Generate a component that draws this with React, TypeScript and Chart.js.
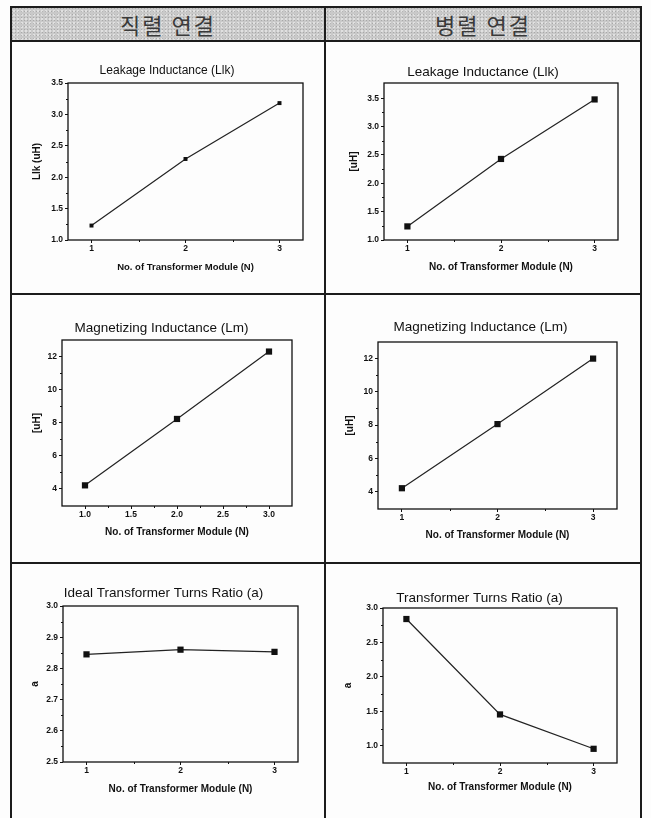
import React, { useEffect, useRef } from "react";
import { Chart, registerables } from "chart.js";

Chart.register(...registerables);

// ---------------- data ----------------
const modules = [1, 2, 3];

const llkSeries = [1.23, 2.29, 3.18];
const llkParallel = [1.24, 2.43, 3.48];
const lmSeries = [4.2, 8.22, 12.3];
const lmParallel = [4.2, 8.06, 12.0];
const ratioSeries = [2.845, 2.86, 2.853];
const ratioParallel = [2.84, 1.455, 0.956];

const headerLabels = ["직렬 연결", "병렬 연결"];

const titles = [
  "Leakage Inductance (Llk)",
  "Leakage Inductance (Llk)",
  "Magnetizing Inductance (Lm)",
  "Magnetizing Inductance (Lm)",
  "Ideal Transformer Turns Ratio (a)",
  "Transformer Turns Ratio (a)",
];
const yTitles = ["Llk (uH)", "[uH]", "[uH]", "[uH]", "a", "a"];
const xTitle = "No. of Transformer Module (N)";

const xTicksInt = [1, 2, 3];
const xMinorInt = [1.5, 2.5];
const xTicksHalf = [1.0, 1.5, 2.0, 2.5, 3.0];
const xMinorHalf = [1.25, 1.75, 2.25, 2.75];

const yTicksLlk = [1.0, 1.5, 2.0, 2.5, 3.0, 3.5];
const yMinorLlk = [1.25, 1.75, 2.25, 2.75, 3.25];
const yTicksLm = [4, 6, 8, 10, 12];
const yMinorLm = [5, 7, 9, 11];
const yTicksRatioS = [2.5, 2.6, 2.7, 2.8, 2.9, 3.0];
const yMinorRatioS = [2.55, 2.65, 2.75, 2.85, 2.95];
const yTicksRatioP = [1.0, 1.5, 2.0, 2.5, 3.0];
const yMinorRatioP = [1.25, 1.75, 2.25, 2.75];

// ---------------- chart ----------------
type Spec = {
  cell: [number, number, number, number];
  plot: [number, number, number, number];
  title: string;
  titleSize: number;
  titleY: number;
  yTitle: string;
  yTitleX: number;
  xTitleY: number;
  xTitleSize: number;
  ys: number[];
  xRange: [number, number];
  yRange: [number, number];
  xTicks: number[];
  xMinor: number[];
  xDec: number;
  yTicks: number[];
  yMinor: number[];
  yDec: number;
  pointR: number;
};

const framePlugin = {
  id: "frame",
  afterDraw(chart: any, _args: any, opts: any) {
    const { ctx, chartArea: a, scales } = chart;
    ctx.save();
    ctx.strokeStyle = "#111";
    ctx.lineWidth = 1.3;
    ctx.strokeRect(a.left, a.top, a.right - a.left, a.bottom - a.top);
    ctx.lineWidth = 1;
    ctx.beginPath();
    for (const v of opts.xMinor || []) {
      const x = Math.round(scales.x.getPixelForValue(v)) + 0.5;
      ctx.moveTo(x, a.bottom);
      ctx.lineTo(x, a.bottom + 2);
    }
    for (const v of opts.yMinor || []) {
      const y = Math.round(scales.y.getPixelForValue(v)) + 0.5;
      ctx.moveTo(a.left, y);
      ctx.lineTo(a.left - 2, y);
    }
    ctx.stroke();
    ctx.restore();
  },
};

const FONT = "'Liberation Sans', Arial, sans-serif";

function Panel({ spec }: { spec: Spec }) {
  const ref = useRef<HTMLCanvasElement | null>(null);
  const [cx, cy, cw, ch] = spec.cell;
  const [pl, pt, pr, pb] = spec.plot;

  useEffect(() => {
    if (!ref.current) return;
    const yTitleSize = 10;
    const tb = pt - spec.titleY - spec.titleSize * 0.6;
    const padTop = pt - cy - spec.titleSize * 1.2 - tb;
    const yW = pl - spec.yTitleX + yTitleSize * 0.6;
    const padLeft = pl - cx - yW;
    const padRight = cx + cw - pr;
    const xH = spec.xTitleY + spec.xTitleSize * 0.6 - pb;
    const padBottom = cy + ch - pb - xH;

    const chart = new Chart(ref.current, {
      type: "line",
      data: {
        datasets: [
          {
            data: modules.map((m, i) => ({ x: m, y: spec.ys[i] })),
            borderColor: "#222",
            borderWidth: 1.2,
            pointStyle: "rect",
            pointRadius: spec.pointR,
            pointBackgroundColor: "#111",
            pointBorderColor: "#111",
            pointBorderWidth: 0,
            tension: 0,
            fill: false,
          },
        ],
      },
      plugins: [framePlugin as any],
      options: {
        animation: false,
        responsive: false,
        maintainAspectRatio: false,
        events: [],
        layout: {
          padding: { left: padLeft, right: padRight, top: padTop, bottom: padBottom },
        },
        plugins: {
          legend: { display: false },
          tooltip: { enabled: false },
          title: {
            display: true,
            text: spec.title,
            color: "#111",
            font: { family: FONT, size: spec.titleSize, weight: "normal" },
            padding: { top: 0, bottom: tb },
          },
          frame: { xMinor: spec.xMinor, yMinor: spec.yMinor },
        } as any,
        scales: {
          x: {
            type: "linear",
            min: spec.xRange[0],
            max: spec.xRange[1],
            afterBuildTicks: (s: any) => {
              s.ticks = spec.xTicks.map((v) => ({ value: v }));
            },
            afterFit: (s: any) => {
              s.height = xH;
            },
            ticks: {
              callback: (v: any) => Number(v).toFixed(spec.xDec),
              color: "#111",
              font: { family: FONT, size: 8.5, weight: "bold" },
              padding: 1,
              maxRotation: 0,
              autoSkip: false,
            },
            grid: { drawOnChartArea: false, drawTicks: true, tickLength: 3, tickColor: "#111" },
            border: { display: false },
            title: {
              display: true,
              text: xTitle,
              color: "#111",
              font: { family: FONT, size: spec.xTitleSize, weight: "bold" },
              padding: 0,
            },
          },
          y: {
            type: "linear",
            min: spec.yRange[0],
            max: spec.yRange[1],
            afterBuildTicks: (s: any) => {
              s.ticks = spec.yTicks.map((v) => ({ value: v }));
            },
            afterFit: (s: any) => {
              s.width = yW;
            },
            ticks: {
              callback: (v: any) => Number(v).toFixed(spec.yDec),
              color: "#111",
              font: { family: FONT, size: 8.5, weight: "bold" },
              padding: 2,
              autoSkip: false,
            },
            grid: { drawOnChartArea: false, drawTicks: true, tickLength: 3, tickColor: "#111" },
            border: { display: false },
            title: {
              display: true,
              text: spec.yTitle,
              color: "#111",
              font: { family: FONT, size: yTitleSize, weight: "bold" },
              padding: 0,
            },
          },
        },
      } as any,
    });
    return () => chart.destroy();
  }, []);

  return (
    <canvas
      ref={ref}
      width={cw}
      height={ch}
      style={{ position: "absolute", left: cx, top: cy, width: cw, height: ch }}
    />
  );
}

const specs: Spec[] = [
  {
    cell: [12, 42, 312, 251], plot: [68, 83, 303, 240],
    title: titles[0], titleSize: 12, titleY: 71, yTitle: yTitles[0], yTitleX: 37,
    xTitleY: 267, xTitleSize: 9.5, ys: llkSeries, xRange: [0.75, 3.25], yRange: [1.0, 3.5],
    xTicks: xTicksInt, xMinor: xMinorInt, xDec: 0, yTicks: yTicksLlk, yMinor: yMinorLlk, yDec: 1, pointR: 2.8,
  },
  {
    cell: [326, 42, 314, 251], plot: [384, 83, 618, 240],
    title: titles[1], titleSize: 13.5, titleY: 72, yTitle: yTitles[1], yTitleX: 354,
    xTitleY: 267, xTitleSize: 10, ys: llkParallel, xRange: [0.75, 3.25], yRange: [1.0, 3.77],
    xTicks: xTicksInt, xMinor: xMinorInt, xDec: 0, yTicks: yTicksLlk, yMinor: yMinorLlk, yDec: 1, pointR: 4.4,
  },
  {
    cell: [12, 295, 312, 267], plot: [62, 340, 292, 506],
    title: titles[2], titleSize: 13.5, titleY: 328, yTitle: yTitles[2], yTitleX: 37,
    xTitleY: 532, xTitleSize: 10, ys: lmSeries, xRange: [0.75, 3.25], yRange: [2.95, 13],
    xTicks: xTicksHalf, xMinor: xMinorHalf, xDec: 1, yTicks: yTicksLm, yMinor: yMinorLm, yDec: 0, pointR: 4.4,
  },
  {
    cell: [326, 295, 314, 267], plot: [378, 342, 617, 509],
    title: titles[3], titleSize: 13.5, titleY: 327, yTitle: yTitles[3], yTitleX: 350,
    xTitleY: 535, xTitleSize: 10, ys: lmParallel, xRange: [0.75, 3.25], yRange: [2.95, 13],
    xTicks: xTicksInt, xMinor: xMinorInt, xDec: 0, yTicks: yTicksLm, yMinor: yMinorLm, yDec: 0, pointR: 4.4,
  },
  {
    cell: [12, 564, 312, 254], plot: [63, 606, 298, 762],
    title: titles[4], titleSize: 13.5, titleY: 593, yTitle: yTitles[4], yTitleX: 35,
    xTitleY: 789, xTitleSize: 10, ys: ratioSeries, xRange: [0.75, 3.25], yRange: [2.5, 3.0],
    xTicks: xTicksInt, xMinor: xMinorInt, xDec: 0, yTicks: yTicksRatioS, yMinor: yMinorRatioS, yDec: 1, pointR: 4.4,
  },
  {
    cell: [326, 564, 314, 254], plot: [383, 608, 617, 763],
    title: titles[5], titleSize: 13.5, titleY: 598, yTitle: yTitles[5], yTitleX: 348,
    xTitleY: 787, xTitleSize: 10, ys: ratioParallel, xRange: [0.75, 3.25], yRange: [0.75, 3.0],
    xTicks: xTicksInt, xMinor: xMinorInt, xDec: 0, yTicks: yTicksRatioP, yMinor: yMinorRatioP, yDec: 1, pointR: 4.4,
  },
];

function HLine({ y }: { y: number }) {
  return <div style={{ position: "absolute", left: 10, top: y - 1, width: 632, height: 2, background: "#1c1c1c" }} />;
}
function VLine({ x }: { x: number }) {
  return <div style={{ position: "absolute", left: x - 1, top: 6, width: 2, height: 812, background: "#1c1c1c" }} />;
}

export default function App() {
  return (
    <div
      style={{
        position: "absolute",
        left: 0,
        top: 0,
        width: 651,
        height: 818,
        overflow: "hidden",
        background: "#fdfdfd",
      }}
    >
      <div
        style={{
          position: "absolute",
          left: 11,
          top: 7,
          width: 630,
          height: 34,
          backgroundColor: "#c9c9c9",
          backgroundImage:
            "radial-gradient(circle, rgba(130,130,130,0.45) 0.7px, transparent 1px), radial-gradient(circle, rgba(240,240,240,0.6) 0.7px, transparent 1px)",
          backgroundSize: "3px 3px, 4px 4px",
          backgroundPosition: "0 0, 1px 2px",
        }}
      />
      {headerLabels.map((t, i) => (
        <div
          key={t}
          style={{
            position: "absolute",
            left: i === 0 ? 11 : 325,
            width: i === 0 ? 314 : 316,
            top: 7,
            height: 34,
            lineHeight: "34px",
            textAlign: "center",
            fontFamily: "'Noto Sans CJK KR', sans-serif",
            fontSize: 22,
            fontWeight: 400,
            letterSpacing: 2,
            color: "#3a3a3a",
          }}
        >
          {t}
        </div>
      ))}
      {specs.map((s, i) => (
        <Panel key={i} spec={s} />
      ))}
      <HLine y={7} />
      <HLine y={41} />
      <HLine y={294} />
      <HLine y={563} />
      <VLine x={11} />
      <VLine x={325} />
      <VLine x={641} />
    </div>
  );
}
